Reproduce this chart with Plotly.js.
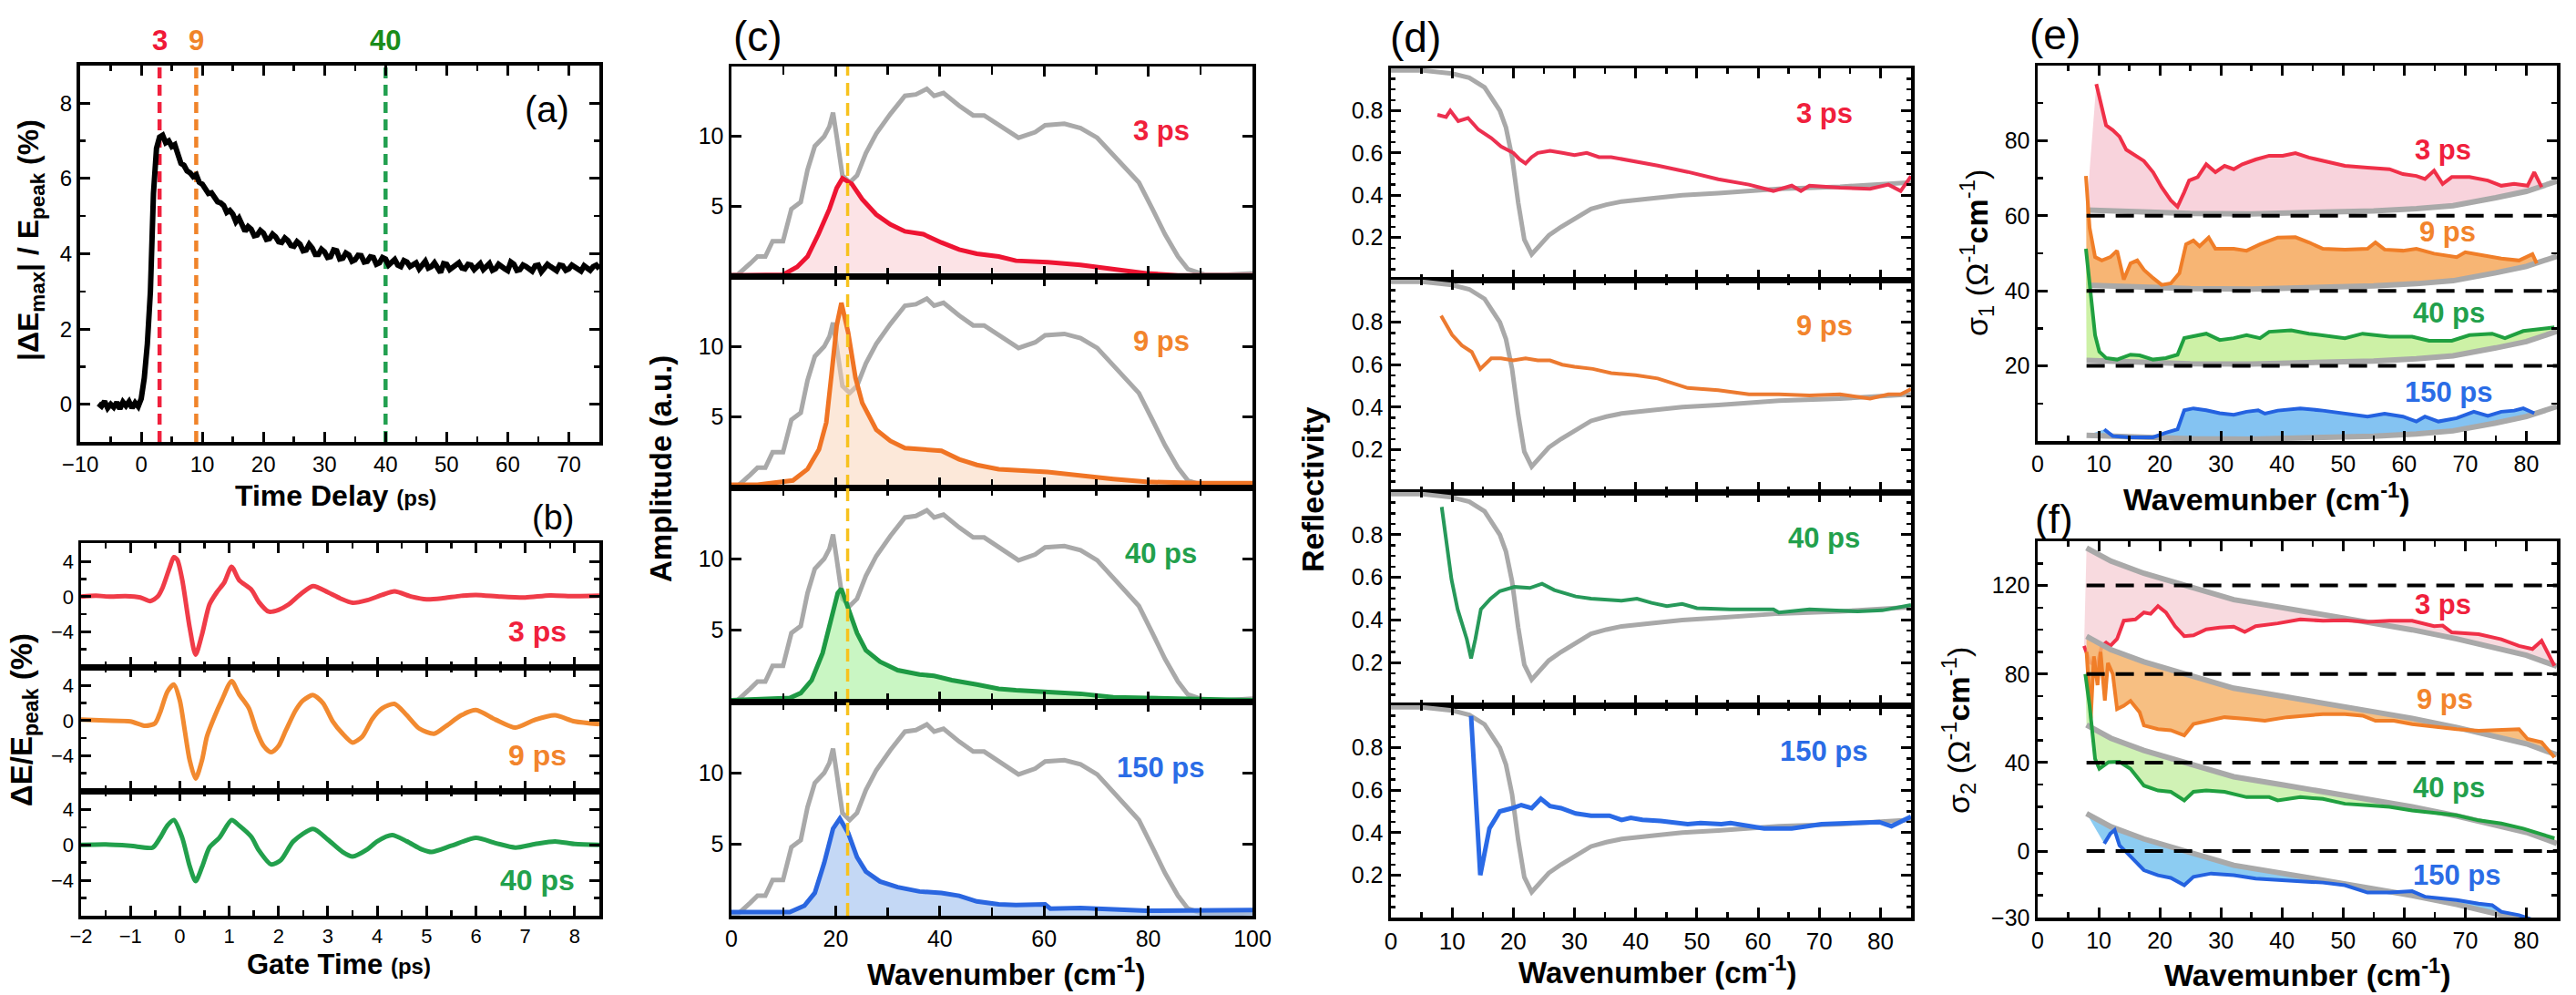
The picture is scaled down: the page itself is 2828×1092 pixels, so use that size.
<!DOCTYPE html>
<html><head><meta charset="utf-8">
<script src="https://cdn.plot.ly/plotly-3.0.1.min.js"></script>
<style>html,body{margin:0;padding:0;background:#fff;}#chart{width:2828px;height:1092px;}</style>
</head><body><div id="chart"></div>
<script>
// ================= DATA =================
// (a) |dE_max|/E_peak vs time delay
const delayTime = [-7,-6.5,-6,-5.5,-5,-4.5,-4,-3.5,-3,-2.5,-2,-1.5,-1,-0.5,0,0.5,1,1.5,2,2.5,3,3.5,4,4.5,5,5.5,6,6.5,7,7.5,8,8.5,9,9.5,
  10,10.5,11,11.5,12,12.5,13,13.5,14,14.5,15,15.5,16,16.5,17,17.5,18,18.5,19,19.5,20,20.5,21,21.5,22,22.5,23,23.5,24,24.5,
  25,25.5,26,26.5,27,27.5,28,28.5,29,29.5,30,30.5,31,31.5,32,32.5,33,33.5,34,34.5,35,35.5,36,36.5,37,37.5,38,38.5,39,39.5,
  40,40.5,41,41.5,42,42.5,43,43.5,44,44.5,45,45.5,46,46.5,47,47.5,48,48.5,49,49.5,50,50.5,51,51.5,52,52.5,53,53.5,54,54.5,
  55,55.5,56,56.5,57,57.5,58,58.5,59,59.5,60,60.5,61,61.5,62,62.5,63,63.5,64,64.5,65,65.5,66,66.5,67,67.5,68,68.5,69,69.5,
  70,70.5,71,71.5,72,72.5,73,73.5,74,74.5,75];
const deltaEmax = [0.02,-0.05,0.08,-0.1,0,-0.08,0.05,-0.12,0.06,-0.04,0.07,-0.1,0.04,-0.06,0.15,0.7,1.6,3.0,5.6,6.8,7.1,7.15,6.95,7.0,6.85,6.9,6.65,6.4,6.35,6.2,6.15,6.05,6.1,5.9,
  5.85,5.75,5.6,5.62,5.5,5.38,5.35,5.28,5.1,5.15,5.05,4.85,4.95,4.8,4.6,4.72,4.65,4.48,4.5,4.62,4.55,4.38,4.4,4.52,4.45,4.32,4.3,4.42,4.35,4.22,
  4.2,4.32,4.25,4.08,4.1,4.25,4.15,3.98,3.98,4.12,4.05,3.9,3.92,4.1,4.08,3.86,3.88,4.02,3.97,3.8,3.84,3.96,3.95,3.78,3.8,3.92,3.9,3.72,3.76,3.9,
  3.86,3.7,3.8,3.85,3.7,3.66,3.82,3.78,3.66,3.72,3.76,3.6,3.7,3.8,3.62,3.66,3.76,3.62,3.5,3.74,3.72,3.58,3.64,3.74,3.76,3.62,3.6,3.72,3.7,3.58,
  3.64,3.74,3.58,3.66,3.74,3.56,3.6,3.72,3.68,3.6,3.55,3.78,3.72,3.56,3.58,3.7,3.66,3.6,3.54,3.68,3.7,3.52,3.6,3.72,3.66,3.58,3.55,3.7,3.68,3.56,
  3.6,3.7,3.66,3.58,3.54,3.68,3.62,3.56,3.66,3.7,3.6];
const delayMarks = [3, 9, 40];
const delayMarkLabels = ['3', '9', '40'];

// (b) field change vs gate time
const gateT3 = [-2,-1.7,-1.4,-1.1,-0.8,-0.6,-0.45,-0.35,-0.2,-0.12,-0.05,0.05,0.2,0.32,0.45,0.6,0.75,0.9,1.05,1.2,1.45,1.6,1.8,2.0,2.2,2.45,2.7,3.0,3.25,3.5,3.8,4.1,4.35,4.7,5.0,5.3,5.7,6.0,6.5,7.0,7.5,8.0,8.5];
const field3 = [0,0.1,0,0.05,-0.1,-0.5,0,1.0,3.4,4.5,4.2,1.9,-3.5,-6.6,-4.3,-0.9,0.5,1.6,3.4,1.9,0.8,-0.6,-1.7,-1.5,-0.9,0.3,1.2,0.5,-0.2,-0.7,-0.4,0.2,0.6,0,-0.3,-0.2,0.1,0.2,0,-0.1,0.15,0.05,0.1];
const gateT9 = [-2,-1.5,-1,-0.7,-0.5,-0.4,-0.25,-0.12,0,0.1,0.2,0.32,0.45,0.55,0.7,0.85,1.05,1.2,1.4,1.55,1.7,1.85,2.0,2.15,2.35,2.5,2.7,2.9,3.1,3.3,3.5,3.7,3.9,4.1,4.35,4.6,4.85,5.15,5.4,5.7,6.0,6.4,6.8,7.2,7.6,8.0,8.5];
const field9 = [0.1,0,-0.1,-0.6,-0.3,0.9,3.3,4.1,2.3,-1.1,-4.5,-6.6,-4.5,-1.8,0.4,2.3,4.5,3.0,1.4,-1.1,-2.9,-3.6,-2.9,-1.1,1.2,2.3,2.9,2.0,-0.1,-1.5,-2.5,-1.8,0.2,1.4,1.9,0.6,-0.9,-1.5,-0.6,0.6,1.2,0.1,-0.8,0.1,0.6,-0.1,-0.4];
const gateT40 = [-2,-1.5,-1,-0.55,-0.4,-0.25,-0.12,0.05,0.2,0.32,0.45,0.6,0.8,1.05,1.2,1.45,1.6,1.85,2.05,2.3,2.7,3.0,3.3,3.5,3.8,4.0,4.3,4.6,4.9,5.1,5.5,6.0,6.4,6.8,7.2,7.6,8.0,8.5];
const field40 = [0,0.05,-0.1,-0.3,0.8,2.2,2.8,0.8,-2.4,-4.1,-2.5,-0.3,0.8,2.8,2.2,0.9,-0.6,-2.2,-1.7,0.4,1.8,0.6,-0.8,-1.3,-0.5,0.4,1.1,0.4,-0.5,-0.8,-0.1,0.8,0.2,-0.3,0.1,0.4,0.1,0];

// (c) amplitude spectra
const refWn = [0,1.2,3.6,5.0,6.5,7.9,9.9,11.5,13.3,14.6,16.0,17.8,18.8,19.5,20.2,21.3,22.7,24.1,25.8,27.8,30.5,33.3,35.4,37.5,38.9,40.7,43.7,46.4,48.5,51.5,55.1,58.3,60.2,63.9,67.0,70.2,73.3,76.4,78.2,80.8,83.2,85.7,87.6,90.8,95.1,100];
const refAmp = [0.1,0.1,0.9,1.4,1.4,2.5,2.5,4.8,5.3,7.6,9.3,10.0,10.7,11.7,10.0,7.2,6.7,7.2,8.8,10.2,11.6,12.9,13.0,13.4,12.9,13.1,12.2,11.5,11.5,10.8,9.9,10.3,10.8,10.9,10.6,9.9,8.7,7.4,6.7,4.8,3.0,1.4,0.5,0.1,0.1,0.2];
const ampWn3 = [0,5,9.9,12.6,14.6,16.7,18.8,20.2,21.3,23.1,25.1,27.8,30.5,33.3,36.8,40.3,43.7,47.1,51.3,54.6,60.7,67.0,73.3,79.6,85.7,92,100];
const amp3 = [0.05,0.05,0.1,0.65,1.4,3.0,4.8,6.3,7.0,6.6,5.5,4.4,3.7,3.2,3.0,2.4,1.9,1.6,1.4,1.1,1.0,0.8,0.5,0.2,0.05,0.05,0.05];
const ampWn9 = [0,5,11.8,14.6,16.8,18.2,19.2,20.2,21.1,22.4,23.8,25.1,27.8,30.5,33.3,37.5,40.3,43.7,47.1,51.3,60.7,73.3,79.6,90,100];
const amp9 = [0.2,0.2,0.5,1.3,2.7,4.6,8.0,11.5,13.1,11.0,7.8,6.0,4.1,3.3,2.8,2.7,2.6,2.0,1.6,1.3,1.1,0.6,0.4,0.3,0.3];
const ampWn40 = [0,11.2,13.3,15.4,17.5,19.2,20.4,21.1,22.4,24.1,25.8,28.5,31.9,36.1,38.9,42.3,47.1,51.3,54.6,60.7,67.0,73.3,79.6,85.7,100];
const amp40 = [0.1,0.25,0.6,1.5,3.4,5.9,7.6,7.9,6.6,4.8,3.6,2.8,2.2,1.9,1.8,1.5,1.2,0.9,0.8,0.7,0.55,0.3,0.25,0.2,0.1];
const ampWn150 = [0,11.2,14.0,16.0,17.8,19.5,20.8,22.4,24.1,25.8,28.5,31.9,36.1,40.3,43.7,47.1,51.3,54.6,60.2,61.2,67.0,73.3,79.6,100];
const amp150 = [0.25,0.25,0.7,1.6,3.7,6.1,6.8,5.8,4.1,3.1,2.4,2.0,1.7,1.6,1.4,1.0,0.8,0.75,0.8,0.5,0.55,0.45,0.35,0.4];
const phononLine = 22.3;

// (d) reflectivity
const reflRefWn = [0,5.2,10,12.8,15.3,17.8,18.8,19.8,20.8,21.8,23.0,24.3,25.8,27.8,30.2,32.7,35.2,37.7,42.6,47.6,53.5,63.4,73.4,85];
const reflRef = [0.99,0.99,0.975,0.955,0.91,0.80,0.72,0.58,0.365,0.19,0.12,0.16,0.21,0.25,0.29,0.335,0.355,0.37,0.385,0.40,0.41,0.43,0.44,0.46];
const reflWn3 = [7.6,9.0,9.7,11.0,12.6,14.3,16.4,18,20,21,22,23,24,26,28,30,32,34,36,38,40,42,43.6,48.5,53.5,58.5,62.5,65.5,67,68.4,73.4,78.3,81.3,83.3,85];
const refl3 = [0.78,0.77,0.80,0.75,0.765,0.71,0.67,0.63,0.60,0.57,0.55,0.58,0.60,0.61,0.60,0.59,0.60,0.58,0.58,0.57,0.56,0.55,0.54,0.51,0.475,0.45,0.42,0.445,0.42,0.445,0.435,0.43,0.45,0.42,0.49];
const reflWn9 = [8.2,10.0,11.6,13.2,14.6,16.4,18,20,22,24,26,28,30,33,36,40,43.6,48.5,53.5,58.5,63.4,68.4,73.4,78.3,81.3,83.3,85];
const refl9 = [0.83,0.74,0.69,0.66,0.58,0.63,0.63,0.62,0.63,0.62,0.62,0.60,0.59,0.58,0.56,0.55,0.535,0.49,0.48,0.46,0.46,0.455,0.46,0.44,0.46,0.46,0.485];
const reflWn40 = [8.3,9.9,10.9,12.4,13.1,13.8,14.7,16.3,17.8,20.2,22.7,24.7,26.7,30.2,32.7,37.7,40.2,42.6,45.1,47.6,50.0,55.5,62.5,63.4,68.4,76.3,80.3,85];
const refl40 = [0.93,0.59,0.45,0.31,0.22,0.31,0.45,0.50,0.535,0.555,0.55,0.57,0.54,0.51,0.50,0.49,0.50,0.48,0.465,0.475,0.455,0.45,0.45,0.435,0.45,0.44,0.445,0.47];
const reflWn150 = [13.1,14.6,16.1,17.8,19.8,21.3,23.0,24.5,26.0,27.8,30.2,32.7,35.7,37.7,39.2,41.1,44.1,48.5,50.6,54.0,55.5,61.0,65.5,70.4,75.3,79.8,81.8,85];
const refl150 = [0.95,0.20,0.42,0.50,0.515,0.53,0.515,0.56,0.525,0.515,0.49,0.48,0.48,0.46,0.47,0.46,0.455,0.44,0.445,0.44,0.445,0.42,0.42,0.44,0.445,0.45,0.43,0.475];

// (e) sigma1 (curves plotted with vertical offsets)
const s1RefWn = [8,15,25,35,45,55,62,68,75,80,85];
const s1Ref = [1.5,1.0,0.6,0.5,0.8,1.3,1.9,2.7,4.8,6.5,9.2];
const s1Offsets = [60,40,20,0];
const s1Wn3 = [9.6,10.5,11.2,12.3,13.4,14.5,16.0,17.4,18.9,20.3,21.8,22.9,24.0,24.8,26.2,27.6,29.1,30.6,32.1,33.5,35.7,37.9,40.1,42.2,44.4,46.7,50.3,54.0,57.6,59.8,62.0,63.4,64.9,66.3,67.8,70.7,73.7,75.9,78.0,80.2,81.3,82.5];
const s1_3 = [95.1,88.9,84.1,82.8,81.1,77.6,75.9,74.6,71.6,67.6,64.1,62.4,66.3,69.4,70.3,73.7,71.6,73.3,72.4,73.7,75.0,76.0,76.0,76.7,75.5,74.6,73.3,72.8,72.4,71.1,70.6,69.8,72.0,68.5,70.3,70.3,69.4,68.0,68.5,68.0,71.6,67.6];
const s1Wn9 = [7.9,8.5,9.4,10.5,11.9,13.0,14.1,15.2,16.3,17.4,18.9,20.3,21.8,23.2,24.3,25.5,26.5,28.0,29.1,32.1,34.2,36.4,39.3,42.2,44.4,46.7,50.3,54.0,55.3,56.8,59.8,62.0,64.9,68.6,70.0,73.0,75.9,78.8,81.0,81.7];
const s1_9 = [70.6,56.8,49.0,48.1,49.0,50.7,43.0,47.3,48.1,45.6,43.4,41.6,42.0,44.7,52.4,53.4,51.9,54.2,51.2,51.2,50.7,52.4,54.2,54.3,52.9,51.2,51.0,51.2,52.9,51.0,50.7,51.2,49.9,49.0,50.3,49.5,48.6,48.1,49.8,47.3];
const s1Wn40 = [7.9,8.6,9.4,10.1,11.2,13.0,15.2,16.7,18.9,21.0,22.9,24.0,25.5,27.6,29.8,32.1,34.2,36.4,37.9,41.5,44.4,48.1,50.3,53.2,57.6,61.3,64.1,67.8,70.7,74.4,76.5,79.5,84.6];
const s1_40 = [51.2,39.5,28.2,23.8,22.1,21.7,23.0,22.8,21.7,22.1,23.0,27.4,27.8,28.6,26.9,27.4,28.2,27.4,29.1,29.5,28.6,27.8,27.4,28.6,27.8,27.8,26.7,26.7,28.2,28.6,27.4,29.3,30.3];
const s1Wn150 = [10.9,12.3,15.2,18.9,21.0,22.9,24.0,25.5,27.6,29.8,32.1,34.2,36.1,37.2,39.3,43.0,46.7,50.3,54.0,56.8,59.8,62.0,63.4,65.6,68.6,71.4,73.7,75.9,78.0,79.5,81.3];
const s1_150 = [3.1,1.3,1.0,1.0,2.2,3.1,8.2,8.7,8.2,7.4,7.0,7.8,8.2,7.3,8.1,8.7,8.1,7.3,6.5,7.3,6.5,5.2,6.5,5.2,6.1,7.8,6.7,7.8,8.1,8.7,7.4];

// (f) sigma2 (curves plotted with vertical offsets)
const s2RefWn = [8,12,17.4,24.8,32.1,40,46.7,54,61.3,68.6,75.9,80,85];
const s2Ref = [17,11,5.5,-0.5,-6.4,-10,-13,-16.7,-20,-24.1,-28.6,-31.5,-36.5];
const s2Offsets = [120,80,40,0];
const s2Wn3 = [7.6,8.6,9.7,10.5,11.2,11.9,13.0,14.1,16.0,17.4,18.5,19.7,21.0,22.5,24.0,25.5,27.6,29.8,32.1,33.9,35.7,39.3,43.0,46.7,50.3,54.0,57.6,61.3,64.9,66.3,67.8,72.2,75.9,78.8,81.0,82.5,84.6];
const s2_3 = [92.7,85.2,83.7,92.7,94.2,92.7,95.9,104.1,104.7,107.8,107.2,110.7,107.8,101.6,97.1,97.5,100.2,101.0,101.4,99.0,101.6,102.9,104.7,104.1,104.3,103.6,104.1,104.1,101.6,101.9,98.8,98.0,95.7,92.7,91.3,95.0,83.7];
const s2Wn9 = [8.0,8.7,9.2,9.8,10.3,11.0,11.5,12.3,13.0,14.1,15.2,16.7,17.4,19.7,21.8,24.0,25.5,27.6,30.6,34.2,37.2,40.8,46.7,50.3,53.2,55.3,58.3,61.3,68.6,72.2,75.9,78.8,80.2,82.5,84.6];
const s2_9 = [90,60,88,75,90,68,85,80,64.2,65.7,67.9,62.7,56.8,55.1,54.6,52.3,57.4,58.8,60.5,59.7,58.9,60.5,61.9,61.9,61.2,58.9,58.9,57.4,55.1,54.4,54.8,55.1,50.7,49.2,42.4];
const s2Wn40 = [7.8,8.5,9.4,10.1,11.6,13.4,15.2,17.4,19.7,21.8,24.0,25.5,27.6,30.6,34.2,37.9,39.3,43.0,46.7,50.3,54.0,57.6,61.3,65.6,68.6,72.2,75.9,79.5,84.6];
const s2_40 = [80,65.8,41.7,37.2,40.2,40.4,37.2,29.6,27.4,26.8,22.9,26.8,27.4,26.8,24.4,24.4,22.9,24.4,23.6,21.4,20.7,20.0,18.4,16.9,16.2,13.9,12.5,10.2,5.8];
const s2Wn150 = [10.9,11.9,12.6,13.4,14.5,16.0,17.4,19.7,21.8,24.0,25.5,28.4,32.1,35.7,39.3,43.0,46.7,50.3,54.0,57.6,61.3,63.4,68.6,72.2,74.4,75.9,78.8,81.0];
const s2_150 = [3.4,7.9,9.5,2.6,-0.4,-4.9,-8.6,-10.9,-12.1,-15.4,-11.6,-10.1,-10.9,-12.4,-13.1,-13.6,-14.2,-15.4,-18.7,-18.7,-18.1,-20.6,-22.1,-23.7,-24.4,-27.4,-28.9,-31];

const delayLabels = ['3 ps', '9 ps', '40 ps', '150 ps'];

// ================= STYLE / LAYOUT =================
const FONT = 'Liberation Sans, Arial, Helvetica, sans-serif';
const W = 2828, H = 1092;
const COL = {red:'#f0203c', orange:'#f2842c', green:'#22a04c', blue:'#2a6ce6', gray:'#a9a9a9'};
const labelCols = [COL.red, COL.orange, COL.green, COL.blue];
const traces = [];
const ann = [];
const layout = {width:W, height:H, margin:{l:0,r:0,t:0,b:0}, paper_bgcolor:'#fff', plot_bgcolor:'rgba(0,0,0,0)',
  showlegend:false, font:{family:FONT, color:'#000'}, annotations:ann};

const sfx = n => n === 1 ? '' : String(n);
function addLine(n, x, y, color, width, extra) {
  traces.push(Object.assign({type:'scatter', mode:'lines', x:x, y:y, xaxis:'x'+sfx(n), yaxis:'y'+sfx(n),
    line:{color:color, width:width}, hoverinfo:'skip', showlegend:false}, extra || {}));
}
function baseAxis(fs, lw) {
  return {showline:true, linecolor:'#000', linewidth:lw || 3.5, mirror:'allticks', ticks:'inside', ticklen:11, tickwidth:3,
    tickcolor:'#000', showgrid:false, zeroline:false, fixedrange:true,
    tickfont:{family:FONT, size:fs, color:'#000'}};
}
function minor(d, len) { return {ticks:'inside', tickmode:'linear', tick0:0, dtick:d, ticklen:len || 6, tickwidth:2.5, tickcolor:'#000', showgrid:false}; }
function setSub(n, px0, px1, py0, py1, xo, yo) {
  layout['xaxis'+sfx(n)] = Object.assign(baseAxis(xo.fs || 24, xo.lw), {domain:[px0/W, px1/W], anchor:'y'+sfx(n)}, xo.ax);
  layout['yaxis'+sfx(n)] = Object.assign(baseAxis(yo.fs || 24, yo.lw), {domain:[1-py1/H, 1-py0/H], anchor:'x'+sfx(n)}, yo.ax);
}
function paperText(text, px, py, size, opts) {
  ann.push(Object.assign({xref:'paper', yref:'paper', x:px/W, y:1-py/H, text:text, showarrow:false,
    xanchor:'center', yanchor:'middle', font:{family:FONT, size:size, color:'#000'}}, opts || {}));
}
function dataText(n, text, x, y, size, color) {
  ann.push({xref:'x'+sfx(n), yref:'y'+sfx(n), x:x, y:y, text:'<b>'+text+'</b>', showarrow:false,
    xanchor:'center', yanchor:'middle', font:{family:FONT, size:size, color:color}});
}

// ---------- (a) ----------
setSub(1, 88, 658, 72, 485,
  {fs:24, lw:4, ax:{range:[-10,75], dtick:10, tick0:0, minor:minor(5)}},
  {fs:24, lw:4, ax:{range:[-1,9], tickvals:[0,2,4,6,8], minor:minor(1)}});
const markCols = [COL.red, '#f0842a', '#22a050'];
const markTextCols = ['#f01838', '#f0842a', '#1a8c1a'];
delayMarks.forEach((m, i) => {
  addLine(1, [m, m], [-1, 9], markCols[i], 4.5, {line:{color:markCols[i], width:4.5, dash:'12px,7px'}});
  ann.push({xref:'x', yref:'paper', x:m, y:1-45/H, text:'<b>'+delayMarkLabels[i]+'</b>', showarrow:false,
    xanchor:'center', yanchor:'middle', font:{family:FONT, size:31, color:markTextCols[i]}});
});
addLine(1, delayTime, deltaEmax, '#000', 6);

// ---------- (b) ----------
const bRows = [[596,732],[732,868],[868,1005]];
const bSeries = [[gateT3, field3, '#f03c48'], [gateT9, field9, '#f28a30'], [gateT40, field40, '#22a04c']];
bRows.forEach((r, i) => {
  const n = 2 + i;
  setSub(n, 89, 658, r[0], r[1],
    {fs:22, ax:{range:[-2,8.5], dtick:1, tick0:0, showticklabels:i===2, minor:minor(0.5)}},
    {fs:22, ax:{range:[-8,6.1], tickvals:[-4,0,4], minor:minor(2)}});
  addLine(n, bSeries[i][0], bSeries[i][1], bSeries[i][2], 5, {line:{color:bSeries[i][2], width:5, shape:'spline', smoothing:0.7}});
  dataText(n, delayLabels[i], 7.25, -4.0, 32, labelCols[i]);
});

// ---------- (c) ----------
const cRows = [[73,303],[303,535],[535,770],[770,1005]];
const cSeries = [[ampWn3, amp3, '#ee1432', 'rgba(250,200,205,0.5)'], [ampWn9, amp9, '#f07424', 'rgba(250,210,180,0.5)'],
                 [ampWn40, amp40, '#1e9a44', 'rgba(165,240,155,0.6)'], [ampWn150, amp150, '#2a66e0', 'rgba(165,195,240,0.65)']];
cRows.forEach((r, i) => {
  const n = 5 + i;
  setSub(n, 803, 1375, r[0], r[1],
    {fs:25, ax:{range:[0,100], dtick:20, tick0:0, showticklabels:i===3, minor:minor(10, 9)}},
    {fs:25, ax:{range:[0,15], tickvals:[5,10]}});
  addLine(n, refWn, refAmp, COL.gray, 5);
  addLine(n, cSeries[i][0], cSeries[i][1], cSeries[i][2], 5, {fill:'tozeroy', fillcolor:cSeries[i][3]});
  addLine(n, [phononLine, phononLine], [0, 15], '#f7c21e', 3.5, {line:{color:'#f7c21e', width:3.5, dash:'14px,8px'}});
  dataText(n, delayLabels[i], 82.5, 10.4, 31, labelCols[i]);
});

// ---------- (d) ----------
const dRows = [[75,307],[307,540],[540,774],[774,1007]];
const dSeries = [[reflWn3, refl3, '#ec3050'], [reflWn9, refl9, '#ec7a30'], [reflWn40, refl40, '#27995a'], [reflWn150, refl150, '#2a6ae6']];
dRows.forEach((r, i) => {
  const n = 9 + i;
  setSub(n, 1527, 2098, r[0], r[1],
    {fs:26, ax:{range:[0,85], dtick:10, tick0:0, showticklabels:i===3, minor:minor(5)}},
    {fs:25, ax:{range:[0,1.0], tickvals:[0.2,0.4,0.6,0.8], minor:minor(0.05, 5)}});
  addLine(n, reflRefWn, reflRef, COL.gray, 5);
  addLine(n, dSeries[i][0], dSeries[i][1], dSeries[i][2], i === 3 ? 5 : 4);
  dataText(n, delayLabels[i], 70.8, 0.785, 31, labelCols[i]);
});

// ---------- (e) ----------
setSub(13, 2237, 2807, 72, 484,
  {fs:25, ax:{range:[0,85], dtick:10, tick0:0, minor:minor(5)}},
  {fs:25, ax:{range:[0,100], tickvals:[20,40,60,80], minor:minor(10)}});
const eSeries = [[s1Wn3, s1_3, '#f03048', 'rgba(246,196,208,0.75)'], [s1Wn9, s1_9, '#f07e28', 'rgba(246,168,92,0.85)'],
                 [s1Wn40, s1_40, '#20a040', 'rgba(196,238,150,0.85)'], [s1Wn150, s1_150, '#2462e0', 'rgba(110,185,240,0.85)']];
eSeries.forEach((s, i) => {
  addLine(13, s1RefWn, s1Ref.map(v => v + s1Offsets[i]), COL.gray, 6);
  addLine(13, s[0], s[1], s[2], 4, {fill:'tonexty', fillcolor:s[3]});
});
s1Offsets.slice(0, 3).forEach(o => addLine(13, [8, 85], [o, o], '#000', 4, {line:{color:'#000', width:4, dash:'20px,12px'}}));
[[66.3,77.5],[67.1,55.8],[67.4,34.2],[67.4,13.1]].forEach((p, i) => dataText(13, delayLabels[i], p[0], p[1], 31, labelCols[i]));

// ---------- (f) ----------
setSub(14, 2237, 2807, 594, 1007,
  {fs:25, ax:{range:[0,85], dtick:10, tick0:0, minor:minor(5)}},
  {fs:25, ax:{range:[-30,140], tickvals:[-30,0,40,80,120], minor:minor(10)}});
const fSeries = [[s2Wn3, s2_3, '#f03048', 'rgba(246,205,212,0.75)'], [s2Wn9, s2_9, '#f07e28', 'rgba(246,180,108,0.85)'],
                 [s2Wn40, s2_40, '#20a040', 'rgba(200,240,168,0.85)'], [s2Wn150, s2_150, '#2462e0', 'rgba(120,195,240,0.85)']];
fSeries.forEach((s, i) => {
  addLine(14, s2RefWn, s2Ref.map(v => v + s2Offsets[i]), COL.gray, 6);
  addLine(14, s[0], s[1], s[2], 4, {fill:'tonexty', fillcolor:s[3]});
});
s2Offsets.forEach(o => addLine(14, [8, 85], [o, o], '#000', 4, {line:{color:'#000', width:4, dash:'20px,12px'}}));
[[66.3,111.5],[66.7,68.7],[67.4,28.8],[68.6,-10.7]].forEach((p, i) => dataText(14, delayLabels[i], p[0], p[1], 31, labelCols[i]));

// ---------- titles & panel labels ----------
paperText('<b>|ΔE<sub>max</sub>| / E<sub>peak</sub> (%)</b>', 33, 264, 32, {textangle:-90});
paperText('<b>Time Delay <span style="font-size:24px">(ps)</span></b>', 368, 544, 32);
paperText('<b>ΔE/E<sub>peak</sub> (%)</b>', 26, 790, 33, {textangle:-90});
paperText('<b>Gate Time <span style="font-size:24px">(ps)</span></b>', 372, 1058, 31);
paperText('<b>Amplitude (a.u.)</b>', 725, 515, 33, {textangle:-90});
paperText('<b>Wavenumber (cm<sup>-1</sup>)</b>', 1104, 1067, 33);
paperText('<b>Reflectivity</b>', 1441, 538, 34, {textangle:-90});
paperText('<b>Wavenumber (cm<sup>-1</sup>)</b>', 1819, 1065, 33);
paperText('σ<sub>1</sub> (Ω<sup>-1</sup><b>cm</b><sup>-1</sup>)', 2170, 278, 34, {textangle:-90});
paperText('<b>Wavemunber (cm<sup>-1</sup>)</b>', 2488, 545, 34);
paperText('σ<sub>2</sub> (Ω<sup>-1</sup><b>cm</b><sup>-1</sup>)', 2150, 802, 34, {textangle:-90});
paperText('<b>Wavemunber (cm<sup>-1</sup>)</b>', 2533, 1067, 34);
paperText('(a)', 600, 120, 40);
paperText('(b)', 607, 568, 38);
paperText('(c)', 832, 40, 46);
paperText('(d)', 1554, 41, 46);
paperText('(e)', 2256, 38, 46);
paperText('(f)', 2255, 569, 44);

Plotly.newPlot('chart', traces, layout, {displayModeBar:false, staticPlot:true});
</script>
</body></html>
